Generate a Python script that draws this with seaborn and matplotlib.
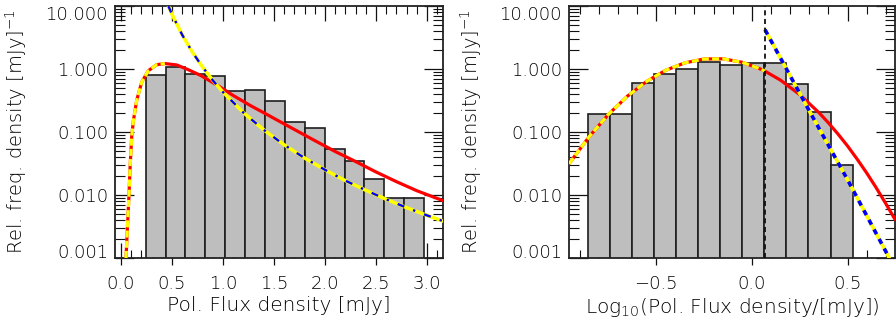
import matplotlib
matplotlib.use("Agg")
import matplotlib.pyplot as plt
import seaborn as sns
import numpy as np
import pandas as pd
from matplotlib.ticker import FixedLocator, FixedFormatter, MultipleLocator, LogLocator, NullFormatter

# ---------------- data ----------------
lin_edges = [0.242, 0.437, 0.632, 0.827, 1.022, 1.217, 1.412, 1.607,
             1.802, 1.997, 2.192, 2.387, 2.582, 2.777, 2.972]
lin_heights = [0.80, 1.09, 0.82, 0.78, 0.45, 0.46, 0.31, 0.142,
               0.116, 0.053, 0.035, 0.0177, 0.0089, 0.0089]

log_edges = [-0.856, -0.741, -0.626, -0.510, -0.395, -0.280, -0.165,
             -0.049, 0.066, 0.181, 0.296, 0.412, 0.527]
log_heights = [0.19, 0.19, 0.59, 0.83, 1.01, 1.31, 1.16, 1.24, 1.26,
               0.58, 0.207, 0.030]

# lognormal model curve, linear flux axis
lin_model_x = [0.049, 0.062, 0.078, 0.09, 0.105, 0.121, 0.154, 0.203, 0.268,
               0.35, 0.43, 0.546, 0.65, 0.775, 0.938, 1.1, 1.265, 1.43, 1.59,
               1.75, 1.9, 2.1, 2.3, 2.5, 2.7, 2.9, 3.16]
lin_model_y = [0.001, 0.0029, 0.010, 0.03, 0.085, 0.15, 0.32, 0.62, 0.94,
               1.17, 1.22, 1.16, 0.99, 0.80, 0.56, 0.38, 0.265, 0.19, 0.137,
               0.099, 0.073, 0.049, 0.034, 0.0232, 0.0163, 0.0117, 0.0081]
lin_fit_max = 0.46

# power-law curve, linear flux axis
lin_pl_x = [0.464, 0.5, 0.6, 0.7, 0.8, 0.9, 1.0, 1.2, 1.4, 1.6, 1.8, 2.0,
            2.2, 2.4, 2.6, 2.8, 3.0, 3.16]
lin_pl_y = [10.0, 7.36, 3.48, 1.85, 1.07, 0.661, 0.429, 0.203, 0.108, 0.0625,
            0.0386, 0.0251, 0.0169, 0.0119, 0.00855, 0.0063, 0.00475, 0.00384]

# log-normal (Gaussian in log) model, log flux axis
log_model_x = [-0.955, -0.85, -0.75, -0.65, -0.55, -0.45, -0.35, -0.25, -0.15,
               -0.05, 0.05, 0.069, 0.15, 0.25, 0.35, 0.4, 0.45, 0.5, 0.55,
               0.6, 0.65, 0.7, 0.748]
log_model_y = [0.0313, 0.084, 0.189, 0.370, 0.635, 0.953, 1.252, 1.441, 1.450,
               1.278, 0.985, 0.923, 0.665, 0.393, 0.204, 0.140, 0.093, 0.060,
               0.0372, 0.0224, 0.0130, 0.0073, 0.0041]
log_cut = 0.069

# power-law, log flux axis
log_pl_x = [0.069, 0.3, 0.5, 0.718]
log_pl_y = [4.2, 0.217, 0.0175, 0.001]

ytick_vals = [0.001, 0.01, 0.1, 1.0, 10.0]
ytick_labels = ["0.001", "0.010", "0.100", "1.000", "10.000"]
lin_xticks = [0.0, 0.5, 1.0, 1.5, 2.0, 2.5, 3.0]
lin_xticklabels = ["0.0", "0.5", "1.0", "1.5", "2.0", "2.5", "3.0"]
log_xticks = [-0.5, 0.0, 0.5]
log_xticklabels = ["\u22120.5", "0.0", "0.5"]

# ---------------- styling ----------------
sns.set_style("ticks")
plt.rcParams["font.family"] = ["DejaVu Sans"]
plt.rcParams["font.weight"] = 200
plt.rcParams["axes.labelweight"] = 200
plt.rcParams["mathtext.fontset"] = "dejavusans"
TXT = "#000000"
plt.rcParams["text.color"] = TXT
plt.rcParams["axes.labelcolor"] = TXT
plt.rcParams["xtick.color"] = "#111111"
plt.rcParams["ytick.color"] = "#111111"
plt.rcParams["xtick.labelcolor"] = TXT
plt.rcParams["ytick.labelcolor"] = TXT

fig = plt.figure(figsize=(8.96, 3.24), dpi=100)
ax1 = fig.add_axes([115 / 896, 66 / 324, 328 / 896, 252 / 324])
ax2 = fig.add_axes([569 / 896, 66 / 324, 326 / 896, 252 / 324])

RED = "#ff0000"
YEL = "#ffff00"
BLU = "#0000ff"
BARC = "#bebebe"
EDGE = "#1e1e1e"


def draw_hist(ax, edges, heights):
    e = [float(v) for v in edges]
    centers = [0.5 * (a + b) for a, b in zip(e[:-1], e[1:])]
    df = pd.DataFrame({"x": centers, "w": [float(h) for h in heights]})
    sns.histplot(data=df, x="x", weights="w", bins=e, ax=ax, stat="count",
                 color=BARC, edgecolor=EDGE, linewidth=1.2, alpha=1.0,
                 zorder=1)


def style_axes(ax, xlim, xticks, xlabels, xlabel):
    ax.set_yscale("log")
    ax.set_ylim(0.001, 10.0)
    ax.set_xlim(*xlim)
    for s in ax.spines.values():
        s.set_visible(True)
        s.set_linewidth(1.3)
        s.set_color("#222222")
    ax.yaxis.set_major_locator(FixedLocator(ytick_vals))
    ax.yaxis.set_major_formatter(FixedFormatter(ytick_labels))
    ax.yaxis.set_minor_locator(LogLocator(base=10, subs=np.arange(2, 10), numticks=20))
    ax.yaxis.set_minor_formatter(NullFormatter())
    ax.xaxis.set_major_locator(FixedLocator(xticks))
    ax.xaxis.set_major_formatter(FixedFormatter(xlabels))
    ax.xaxis.set_minor_locator(MultipleLocator(0.1))
    ax.tick_params(axis="y", which="major", direction="in", length=13.7,
                   width=0.9, left=True, right=True, labelsize=13, pad=5)
    ax.tick_params(axis="y", which="minor", direction="in", length=7.2,
                   width=0.8, left=True, right=True)
    ax.tick_params(axis="x", which="major", direction="in", length=11,
                   width=0.9, bottom=True, top=True, labelsize=13, pad=12)
    ax.tick_params(axis="x", which="minor", direction="in", length=5.8,
                   width=0.8, bottom=True, top=True)
    # outward part of the bottom major ticks
    sec = ax.secondary_xaxis("bottom")
    sec.xaxis.set_major_locator(FixedLocator(xticks))
    sec.tick_params(axis="x", which="major", direction="out", length=5,
                    width=0.9, labelbottom=False)
    sec.xaxis.set_minor_locator(FixedLocator([]))
    sec.spines["bottom"].set_visible(False)
    ax.set_xlabel(xlabel, fontsize=14.5)
    ax.set_ylabel("Rel. freq. density [mJy]$^{-1}$", fontsize=14)
    ax.xaxis.set_label_coords(0.5, -0.150)
    ax.yaxis.set_label_coords(-0.262, 0.5)
    ticks = ax.yaxis.get_major_ticks()
    ticks[0].label1.set_verticalalignment("baseline")
    ticks[-1].label1.set_verticalalignment("top")


# ---------------- left panel ----------------
draw_hist(ax1, lin_edges, lin_heights)
sns.lineplot(x=lin_model_x, y=lin_model_y, ax=ax1, color=RED, lw=2.3,
             sort=False, zorder=3)
fx = [x for x in lin_model_x if x <= lin_fit_max]
fy = lin_model_y[:len(fx)]
sns.lineplot(x=fx, y=fy, ax=ax1, color=YEL, lw=2.3, sort=False,
             linestyle=(0, (2.2, 1.0)), zorder=4)
sns.lineplot(x=lin_pl_x, y=lin_pl_y, ax=ax1, color=YEL, lw=2.5, sort=False,
             zorder=4)
sns.lineplot(x=lin_pl_x, y=lin_pl_y, ax=ax1, color=BLU, lw=1.7, sort=False,
             linestyle=(0, (3, 4, 1, 4)), zorder=5)
style_axes(ax1, (-0.059, 3.157), lin_xticks, lin_xticklabels,
           "Pol. Flux density [mJy]")

# ---------------- right panel ----------------
draw_hist(ax2, log_edges, log_heights)
sns.lineplot(x=log_model_x, y=log_model_y, ax=ax2, color=RED, lw=2.3,
             sort=False, zorder=3)
gx = [x for x in log_model_x if x <= log_cut]
gy = log_model_y[:len(gx)]
sns.lineplot(x=gx, y=gy, ax=ax2, color=YEL, lw=2.3, sort=False,
             linestyle=(0, (2.2, 1.0)), zorder=4)
sns.lineplot(x=log_pl_x, y=log_pl_y, ax=ax2, color=YEL, lw=2.6, sort=False,
             zorder=4)
sns.lineplot(x=log_pl_x, y=log_pl_y, ax=ax2, color=BLU, lw=2.6, sort=False,
             linestyle=(0, (1.5, 1.5)), zorder=5)
ax2.axvline(log_cut, color="#111111", lw=1.3, linestyle=(0, (2.8, 2.0)), zorder=6)
style_axes(ax2, (-0.955, 0.748), log_xticks, log_xticklabels,
           "Log$_{10}$(Pol. Flux density/[mJy])")

for ax in (ax1, ax2):
    leg = ax.get_legend()
    if leg is not None:
        leg.remove()

fig.savefig("out.png", dpi=100)
